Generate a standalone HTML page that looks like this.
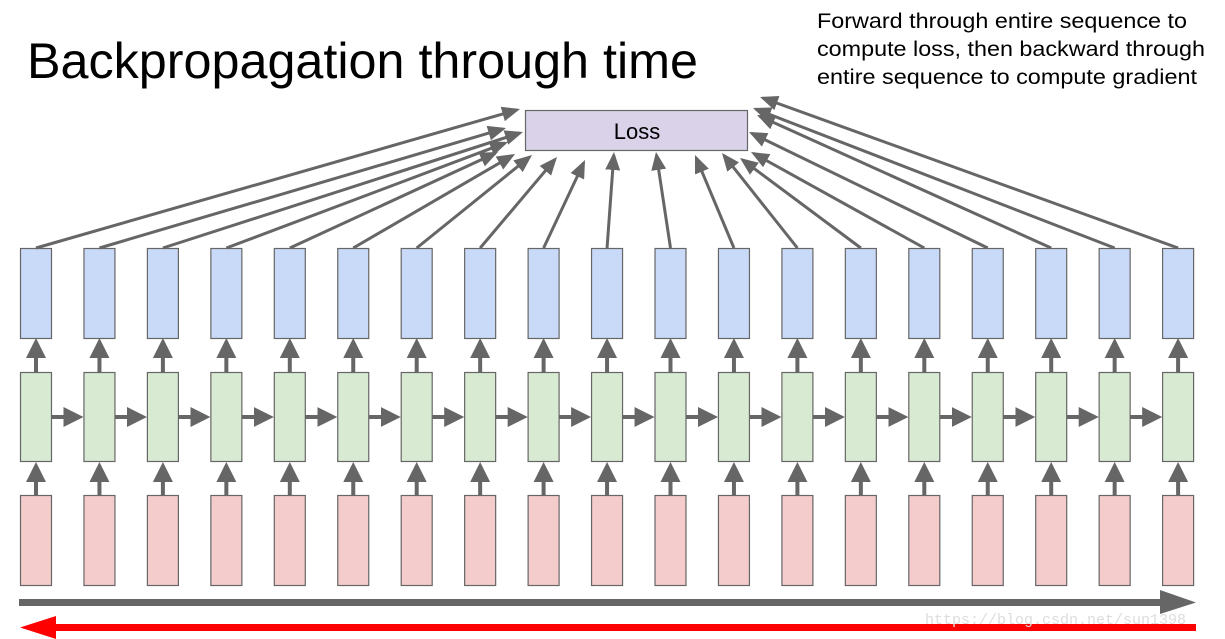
<!DOCTYPE html>
<html><head><style>
body{margin:0;width:1225px;height:639px;background:#fff;overflow:hidden;font-family:"Liberation Sans",sans-serif;}
</style></head><body>
<svg width="1225" height="639" xmlns="http://www.w3.org/2000/svg" style="position:absolute;left:0;top:0">
<defs>
<marker id="ah" markerWidth="6" markerHeight="5" refX="5" refY="2.5" orient="auto" markerUnits="strokeWidth"><path d="M0,0 L6,2.5 L0,5 z" fill="#666"/></marker>
<marker id="ah2" markerWidth="5" markerHeight="5" refX="4" refY="2.5" orient="auto" markerUnits="strokeWidth"><path d="M0,0 L5,2.5 L0,5 z" fill="#666"/></marker>
</defs>
<text x="27" y="78" font-size="50" fill="#000" font-family="Liberation Sans, sans-serif" textLength="671" lengthAdjust="spacingAndGlyphs">Backpropagation through time</text>
<g font-size="21" fill="#000" font-family="Liberation Sans, sans-serif">
<text x="817" y="28" textLength="370" lengthAdjust="spacingAndGlyphs">Forward through entire sequence to</text>
<text x="817" y="56" textLength="388" lengthAdjust="spacingAndGlyphs">compute loss, then backward through</text>
<text x="817" y="84" textLength="380" lengthAdjust="spacingAndGlyphs">entire sequence to compute gradient</text>
</g>
<rect x="525.5" y="110.5" width="222" height="40" fill="#d9d2e9" stroke="#666" stroke-width="1.2"/>
<text x="637" y="139" font-size="22" text-anchor="middle" fill="#000">Loss</text>
<g id="g"></g>
<rect x="19" y="599" width="1145" height="7" fill="#666"/>
<path d="M1160,590 L1196,602.5 L1160,614 z" fill="#666"/>
<rect x="52" y="624" width="1144" height="7" fill="#f00"/>
<path d="M20,627.5 L56,616 L56,639 z" fill="#f00"/>
<text x="925" y="624" font-size="15" fill="#ddd" font-family="Liberation Mono, monospace">https://blog.csdn.net/sun1398</text>
</svg>
<script>
const g=document.getElementById('g');
const tips=[[520,109],[506,128],[523,132],[508,142],[498,152],[515,154],[532,155],[557,157],[585,160],[614,152],[656,152],[695,155],[722,153],[740,158],[751,152],[749,132],[757,115],[753,108],[760,97]];
let h='';
for(let i=0;i<19;i++){
 const x=20.5+63.45*i, cx=x+15.5;
 h+=`<rect x="${x}" y="248.5" width="31" height="90" fill="#c9daf8" stroke="#666" stroke-width="1.2"/>`;
 h+=`<rect x="${x}" y="372.5" width="31" height="89" fill="#d9ead3" stroke="#666" stroke-width="1.2"/>`;
 h+=`<rect x="${x}" y="495.5" width="31" height="90" fill="#f4cccc" stroke="#666" stroke-width="1.2"/>`;
 h+=`<line x1="${cx}" y1="372" x2="${cx}" y2="342" stroke="#666" stroke-width="4" marker-end="url(#ah2)"/>`;
 h+=`<line x1="${cx}" y1="495" x2="${cx}" y2="466" stroke="#666" stroke-width="4" marker-end="url(#ah2)"/>`;
 if(i<18) h+=`<line x1="${x+31}" y1="417" x2="${x+59}" y2="417" stroke="#666" stroke-width="4" marker-end="url(#ah2)"/>`;
 const t=tips[i];const dx=t[0]-cx,dy=t[1]-248,L=Math.hypot(dx,dy);
 h+=`<line x1="${cx}" y1="248" x2="${t[0]-dx/L*3}" y2="${t[1]-dy/L*3}" stroke="#666" stroke-width="3" marker-end="url(#ah)"/>`;
}
g.innerHTML=h;
</script>
</body></html>
